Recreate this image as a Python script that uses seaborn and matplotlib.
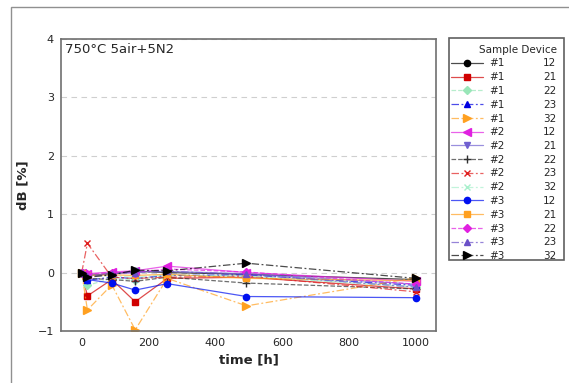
import matplotlib
matplotlib.use("Agg")
import matplotlib.pyplot as plt
import seaborn as sns
from matplotlib.colors import to_rgba
from matplotlib.patches import Rectangle

# stile di base
sns.set_style("white")
plt.rcParams['font.family'] = ['DejaVu Sans']

# --- dati ---
time_h = [0, 17, 90, 160, 256, 493, 1000]

s1_d12 = [0, -0.05, -0.02, 0.02, 0.00, -0.03, -0.12]
s1_d21 = [0, -0.40, -0.12, -0.50, -0.10, -0.08, -0.28]
s1_d22 = [0, -0.22, -0.10, -0.12, -0.05, -0.06, -0.25]
s1_d23 = [0, -0.13, -0.08, -0.10, -0.05, -0.04, -0.22]
s1_d32 = [0, -0.64, -0.21, -0.98, -0.10, -0.57, -0.09]
s2_d12 = [0, -0.02, 0.01, 0.03, 0.11, 0.00, -0.15]
s2_d21 = [0, -0.05, -0.02, 0.02, 0.02, -0.02, -0.20]
s2_d22 = [0, -0.10, -0.12, -0.15, -0.08, -0.18, -0.28]
s2_d23 = [0, 0.50, -0.08, -0.10, -0.08, -0.06, -0.33]
s2_d32 = [0, -0.05, -0.06, -0.08, -0.04, -0.06, -0.24]
s3_d12 = [0, -0.12, -0.18, -0.30, -0.19, -0.41, -0.43]
s3_d21 = [0, -0.05, -0.04, -0.05, -0.03, -0.10, -0.14]
s3_d22 = [0, -0.03, 0.00, 0.00, 0.06, 0.01, -0.20]
s3_d23 = [0, -0.06, -0.03, 0.00, 0.02, -0.03, -0.25]
s3_d32 = [0, -0.08, -0.04, 0.04, 0.03, 0.16, -0.10]

series = [s1_d12, s1_d21, s1_d22, s1_d23, s1_d32,
          s2_d12, s2_d21, s2_d22, s2_d23, s2_d32,
          s3_d12, s3_d21, s3_d22, s3_d23, s3_d32]
samples = ['#1'] * 5 + ['#2'] * 5 + ['#3'] * 5
devices = ['12', '21', '22', '23', '32'] * 3

# --- stili ---
dashdot = (0, (6, 2, 1.5, 2))
colors = ['#000000', '#d00000', '#99e6b8', '#0000e0', '#ffa020',
          '#e020e0', '#7060d0', '#303030', '#e02020', '#a8f0cc',
          '#0010f0', '#ffa020', '#e020e0', '#6a50c8', '#000000']
markers = ['o', 's', 'D', '^', '>',
           '<', 'v', '+', 'x', 'x',
           'o', 's', 'D', '^', '>']
linestyles = ['-', '-', '--', dashdot, dashdot,
              '-', '-', '--', dashdot, dashdot,
              '-', '-', '--', dashdot, dashdot]
msizes = [4.5, 4.5, 4.2, 5, 5.5, 5.5, 5, 6, 5, 5, 4.5, 4.5, 4.2, 5, 5.5]

W, H = 569, 383
fig = plt.figure(figsize=(W / 100, H / 100), dpi=100)
ax = fig.add_axes([61 / W, 1 - 331 / H, (436 - 61) / W, (331 - 38.7) / H])

handles = []
for vals, col, mk, ls, ms in zip(series, colors, markers, linestyles, msizes):
    sns.lineplot(x=time_h, y=vals, ax=ax, color=to_rgba(col, 0.7),
                 marker=mk, markersize=ms, markerfacecolor=col,
                 markeredgecolor=col, markeredgewidth=1.0,
                 linestyle=ls, linewidth=0.9, legend=False)
    handles.append(ax.lines[-1])

ax.set_xlim(-62, 1060)
ax.set_ylim(-1, 4)
ax.set_xticks([0, 200, 400, 600, 800, 1000])
ax.set_yticks([-1, 0, 1, 2, 3, 4])
ax.yaxis.grid(True, linestyle=(0, (5, 4)), color='#cfcfcf', linewidth=0.8)
ax.xaxis.grid(False)
ax.set_axisbelow(True)
for sp in ax.spines.values():
    sp.set_color('#707070')
    sp.set_linewidth(1.2)
ax.tick_params(axis='both', direction='out', length=3, width=1,
               color='#707070', labelsize=8, pad=2)
ax.set_xlabel('time [h]', fontsize=9.5, fontweight='bold', labelpad=4)
ax.set_ylabel('dB [%]', fontsize=9.5, fontweight='bold', labelpad=6)
ax.text(0.011, 0.985, '750°C 5air+5N2', transform=ax.transAxes,
        ha='left', va='top', fontsize=9.5)

# --- legenda a tabella ---
leg = fig.legend(handles, samples, loc='upper left',
                 bbox_to_anchor=(451 / W, 1 - 58.5 / H), frameon=False,
                 fontsize=7.5, handlelength=3.1, handletextpad=0.55,
                 labelspacing=0.36, borderpad=0, borderaxespad=0)
fig.patches.append(Rectangle((449 / W, 1 - 260 / H), 115 / W, 222 / H,
                             transform=fig.transFigure, fill=False,
                             edgecolor='#606060', linewidth=1.2))
fig.text(557 / W, 1 - 50 / H, 'Sample Device', fontsize=7.5,
         ha='right', va='center')

fig.canvas.draw()
for t, dev in zip(leg.get_texts(), devices):
    bb = t.get_window_extent()
    fig.text(556 / W, (bb.y0 + bb.y1) / 2 / fig.bbox.height, dev,
             fontsize=7.5, ha='right', va='center')

# cornice esterna
fig.patches.append(Rectangle((11 / W, -0.1), 1.2, 1.1 - 7 / H,
                             transform=fig.transFigure, fill=False,
                             edgecolor='#909090', linewidth=1.0))

fig.savefig('out.png', dpi=100)
plt.close(fig)
